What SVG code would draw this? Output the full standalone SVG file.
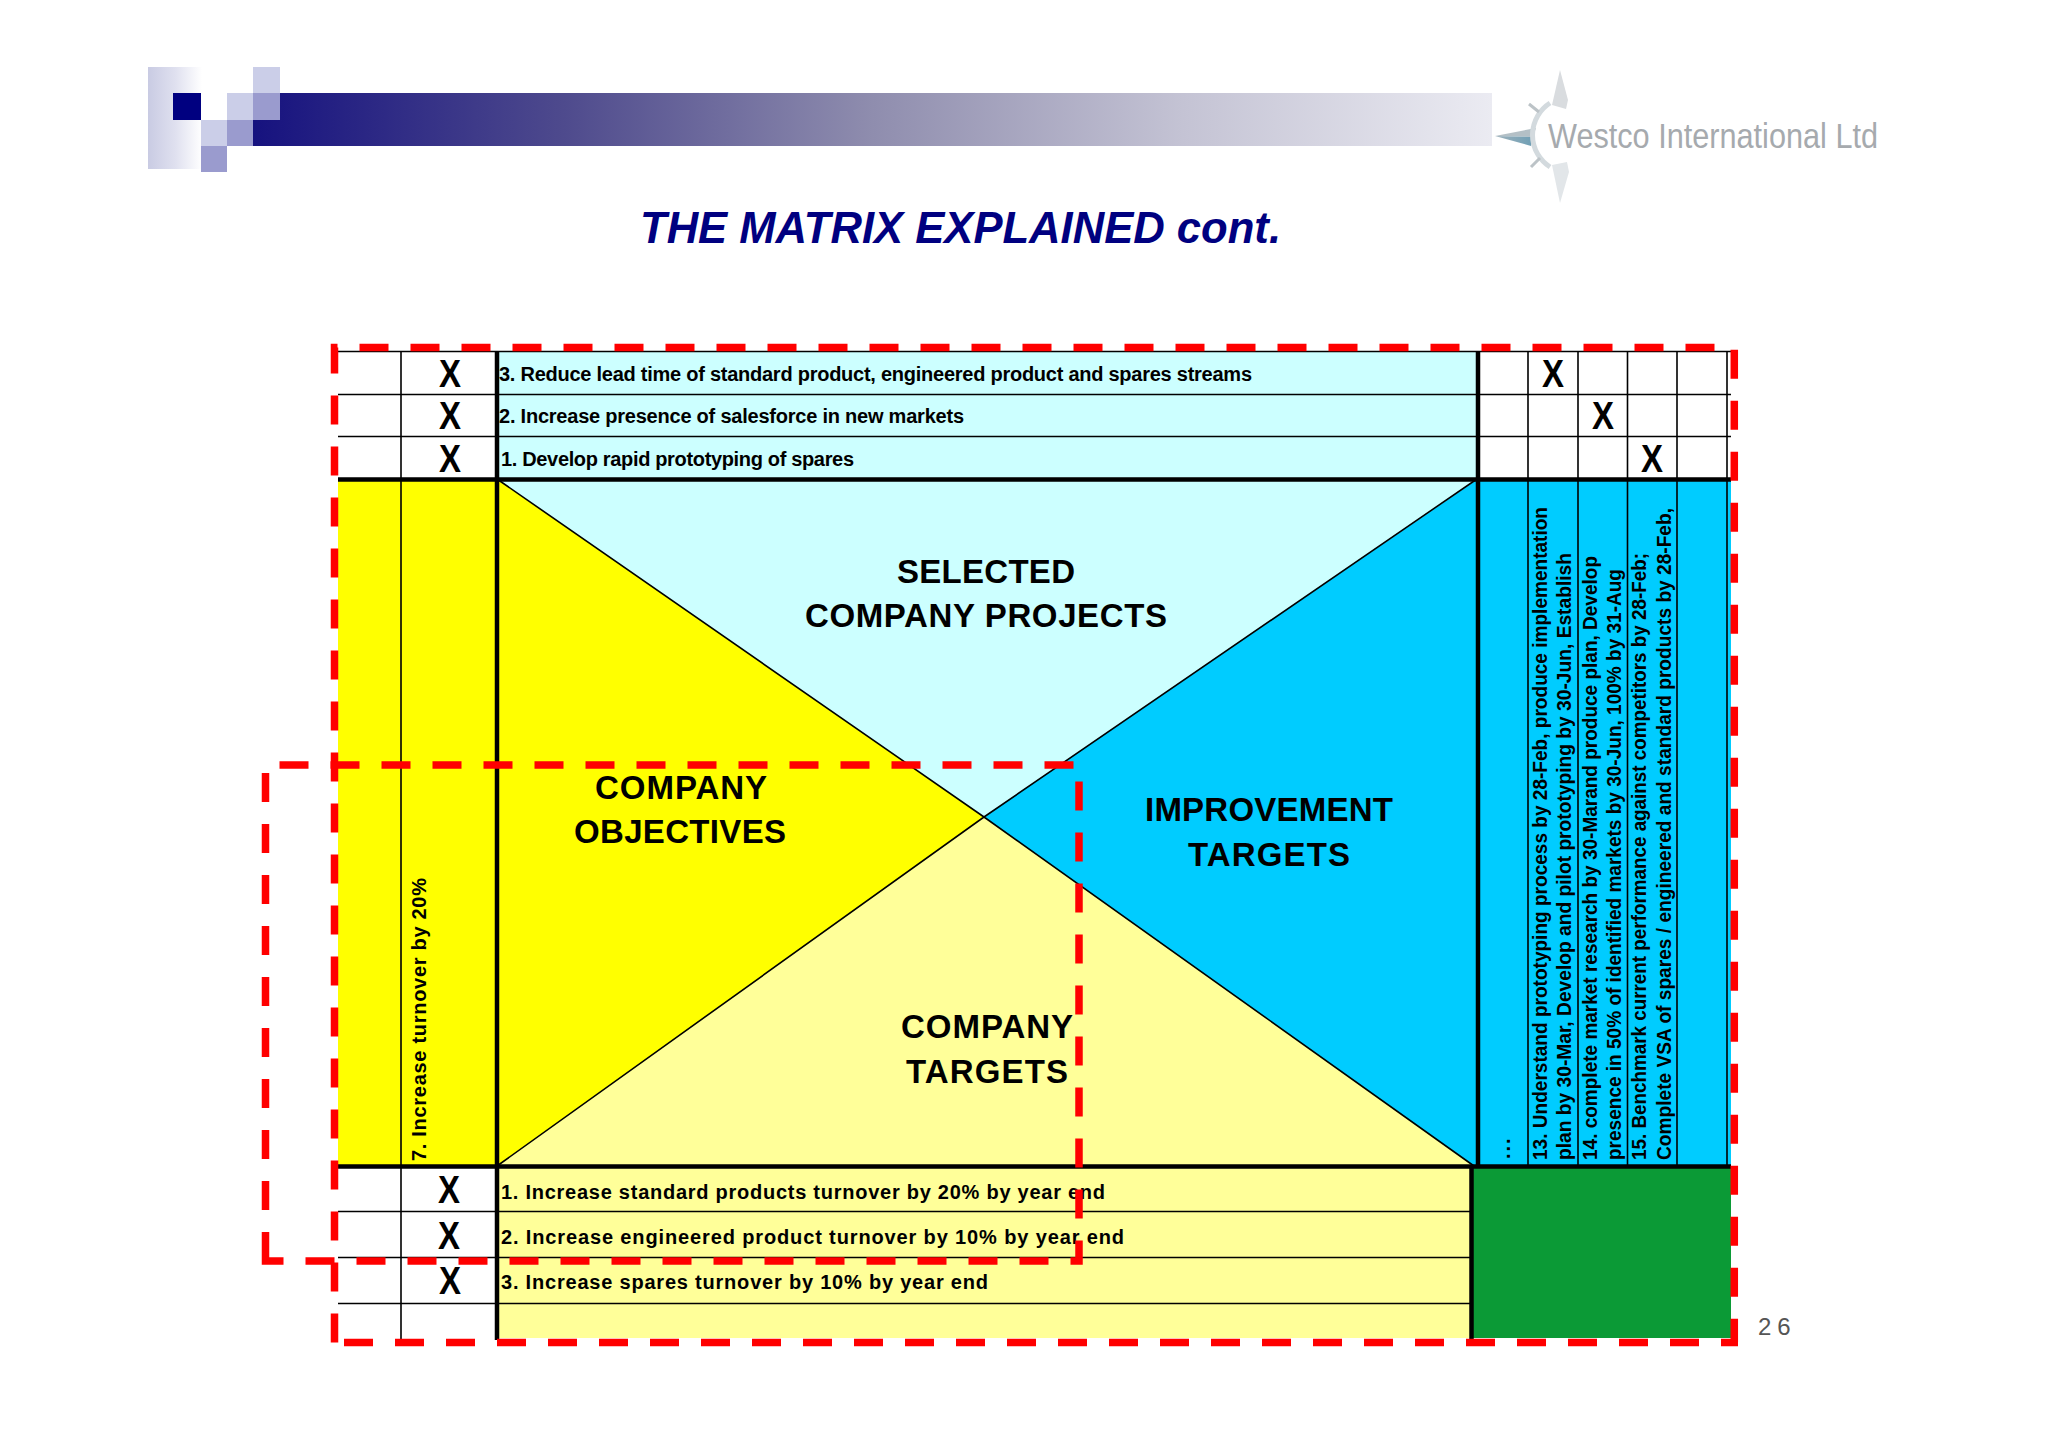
<svg xmlns="http://www.w3.org/2000/svg" width="2048" height="1448" viewBox="0 0 2048 1448">
<style>
text{font-family:"Liberation Sans",Arial,sans-serif;fill:#000}
.row{font-size:20px;font-weight:bold}
.x{font-size:38px;font-weight:bold;text-anchor:middle}
.big{font-size:33px;font-weight:bold}
.v{font-size:20px;font-weight:bold}
.thin{stroke:#000;stroke-width:1.6;fill:none}
.thick{stroke:#000;stroke-width:4.5;fill:none}
.dash{stroke:#ff0000;stroke-width:7.5;fill:none;stroke-dasharray:29 22}
</style>
<defs>
<linearGradient id="bar" x1="0" x2="1" y1="0" y2="0"><stop offset="0" stop-color="#16127f"/><stop offset="0.25" stop-color="#4e4a8d"/><stop offset="0.5" stop-color="#8f8dae"/><stop offset="0.75" stop-color="#c4c3d4"/><stop offset="1" stop-color="#ebebf2"/></linearGradient>
<linearGradient id="fade" x1="0" x2="1" y1="0" y2="0"><stop offset="0" stop-color="#c9cbe3"/><stop offset="0.5" stop-color="#dfe0ef"/><stop offset="1" stop-color="#ffffff"/></linearGradient>
<linearGradient id="blade" x1="0" x2="1" y1="0" y2="0"><stop offset="0" stop-color="#9fb2bc"/><stop offset="1" stop-color="#6f9fb5"/></linearGradient>
</defs>
<rect width="2048" height="1448" fill="#ffffff"/>
<g id="header">
<rect x="148" y="67" width="54" height="102" fill="url(#fade)"/>
<path d="M253 120H280V93H1492V146H253Z" fill="url(#bar)"/>
<rect x="173" y="93" width="28" height="27" fill="#000080"/>
<rect x="253" y="67" width="27" height="26" fill="#cbcee8"/>
<rect x="227" y="93" width="26" height="27" fill="#cbcee8"/>
<rect x="253" y="93" width="27" height="27" fill="#9a9bce"/>
<rect x="201" y="120" width="26" height="26" fill="#cbcee8"/>
<rect x="227" y="120" width="26" height="26" fill="#9a9bce"/>
<rect x="201" y="146" width="26" height="26" fill="#9a9bce"/>
</g>
<g id="logo">
<path d="M1495 136L1536 128L1533 137Z" fill="#b4c0c6"/>
<path d="M1495 136L1533 137L1531 146Z" fill="url(#blade)"/>
<path d="M1560 70L1552 105L1566 109L1568 100Z" fill="#d9dcdf"/>
<path d="M1560 203L1552 165L1567 162L1569 172Z" fill="#e2e6e9"/>
<path d="M1550 103A38 38 0 0 0 1550 167" fill="none" stroke="#d3dade" stroke-width="5"/>
<path d="M1529 104L1539 112M1531 167L1540 158" stroke="#bcc3c7" stroke-width="3"/>
<text x="1548" y="148" font-size="35" style="fill:#a6aaae" textLength="330" lengthAdjust="spacingAndGlyphs">Westco International Ltd</text>
</g>
<text id="title" x="640" y="243" font-size="44" font-weight="bold" font-style="italic" style="fill:#000080" textLength="641" lengthAdjust="spacingAndGlyphs">THE MATRIX EXPLAINED cont.</text>
<g id="matrix-fills">
<rect x="497" y="351" width="981" height="128" fill="#ccffff"/>
<rect x="338" y="479" width="159" height="687" fill="#ffff00"/>
<path d="M497 479H1478L984 817Z" fill="#ccffff"/>
<path d="M497 479L984 817L497 1166Z" fill="#ffff00"/>
<path d="M1478 479L984 817L1474 1166H1478Z" fill="#00ccff"/>
<path d="M497 1166L984 817L1474 1166Z" fill="#ffff99"/>
<rect x="1478" y="479" width="253" height="687" fill="#00ccff"/>
<rect x="497" y="1166" width="975" height="172" fill="#ffff99"/>
<rect x="1472" y="1166" width="259" height="172" fill="#0b9a36"/>
</g>
<g id="connectors">
<path class="thin" d="M497 479L984 817L1474 1166M1477 479L984 817L497 1166"/>
<path class="thin" d="M338 351.500H1731M338 394.500H1731M338 436.500H1731M338 1211.500H1471M338 1257.500H1471M338 1303.500H1471"/>
<path class="thin" d="M401 351V1342M1528 351V1166M1578 351V1166M1627.500 351V1166M1677 351V1166M1727 351V1166"/>
<path class="thick" d="M338 479.500H1731M338 1166.500H1731M497 351V1340M1478 351V1166M1471.500 1166V1339"/>
</g>
<g id="top-rows">
<text class="row" x="499" y="380.500" textLength="753" lengthAdjust="spacing">3. Reduce lead time of standard product, engineered product and spares streams</text>
<text class="row" x="499" y="422.500" textLength="465" lengthAdjust="spacing">2. Increase presence of salesforce in new markets</text>
<text class="row" x="501" y="465.500" textLength="353" lengthAdjust="spacing">1. Develop rapid prototyping of spares</text>
<text class="x" x="450" y="387" textLength="22" lengthAdjust="spacingAndGlyphs">X</text><text class="x" x="450" y="429" textLength="22" lengthAdjust="spacingAndGlyphs">X</text><text class="x" x="450" y="472" textLength="22" lengthAdjust="spacingAndGlyphs">X</text>
<text class="x" x="1553" y="387" textLength="22" lengthAdjust="spacingAndGlyphs">X</text><text class="x" x="1603" y="429" textLength="22" lengthAdjust="spacingAndGlyphs">X</text><text class="x" x="1652" y="472" textLength="22" lengthAdjust="spacingAndGlyphs">X</text>
</g>
<g id="bottom-rows">
<text class="row" x="501" y="1198.500" textLength="604" lengthAdjust="spacing">1. Increase standard products turnover by 20% by year end</text>
<text class="row" x="501" y="1244" textLength="623" lengthAdjust="spacing">2. Increase engineered product turnover by 10% by year end</text>
<text class="row" x="501" y="1289" textLength="487" lengthAdjust="spacing">3. Increase spares turnover by 10% by year end</text>
<text class="x" x="449" y="1203" textLength="22" lengthAdjust="spacingAndGlyphs">X</text><text class="x" x="449" y="1249" textLength="22" lengthAdjust="spacingAndGlyphs">X</text><text class="x" x="450" y="1294" textLength="22" lengthAdjust="spacingAndGlyphs">X</text>
</g>
<g id="selected-company-projects"><text class="big" x="897" y="583" textLength="178">SELECTED</text><text class="big" x="805" y="627" textLength="362">COMPANY PROJECTS</text></g>
<g id="company-objectives"><text class="big" x="595" y="799" textLength="172">COMPANY</text><text class="big" x="574" y="843" textLength="212">OBJECTIVES</text></g>
<g id="improvement-targets"><text class="big" x="1145" y="821" textLength="248">IMPROVEMENT</text><text class="big" x="1188" y="866" textLength="162">TARGETS</text></g>
<g id="company-targets"><text class="big" x="901" y="1038" textLength="172">COMPANY</text><text class="big" x="906" y="1083" textLength="162">TARGETS</text></g>
<g id="vertical-text">
<text class="v" transform="translate(426 1161) rotate(-90)" textLength="283" lengthAdjust="spacing">7. Increase turnover by 20%</text>
<text class="v" transform="translate(1510 1159) rotate(-90)" letter-spacing="2">...</text>
<text class="v" transform="translate(1547 1160) rotate(-90)" textLength="653" lengthAdjust="spacingAndGlyphs">13. Understand prototyping process by 28-Feb, produce implementation</text>
<text class="v" transform="translate(1571 1160) rotate(-90)" textLength="607" lengthAdjust="spacingAndGlyphs">plan by 30-Mar, Develop and pilot prototyping by 30-Jun, Establish</text>
<text class="v" transform="translate(1597 1160) rotate(-90)" textLength="604" lengthAdjust="spacingAndGlyphs">14. complete market research by 30-Marand produce plan, Develop</text>
<text class="v" transform="translate(1621 1160) rotate(-90)" textLength="591" lengthAdjust="spacingAndGlyphs">presence in 50% of identified markets by 30-Jun, 100% by 31-Aug</text>
<text class="v" transform="translate(1646 1160) rotate(-90)" textLength="607" lengthAdjust="spacingAndGlyphs">15. Benchmark current performance against competitors by 28-Feb;</text>
<text class="v" transform="translate(1671 1160) rotate(-90)" textLength="652" lengthAdjust="spacingAndGlyphs">Complete VSA of spares / engineered and standard products by 28-Feb,</text>
</g>
<g id="red-outlines">
<path class="dash" d="M334.500 1342.500V347.500H1734.300V1342.500"/>
<path class="dash" style="stroke-dashoffset:12" d="M1738 1342.500H330"/>
<path class="dash" d="M265.500 1261V765H1079V1261Z"/>
</g>
<text id="page-number" x="1758" y="1335" font-size="24" style="fill:#555" letter-spacing="6">26</text>
</svg>
